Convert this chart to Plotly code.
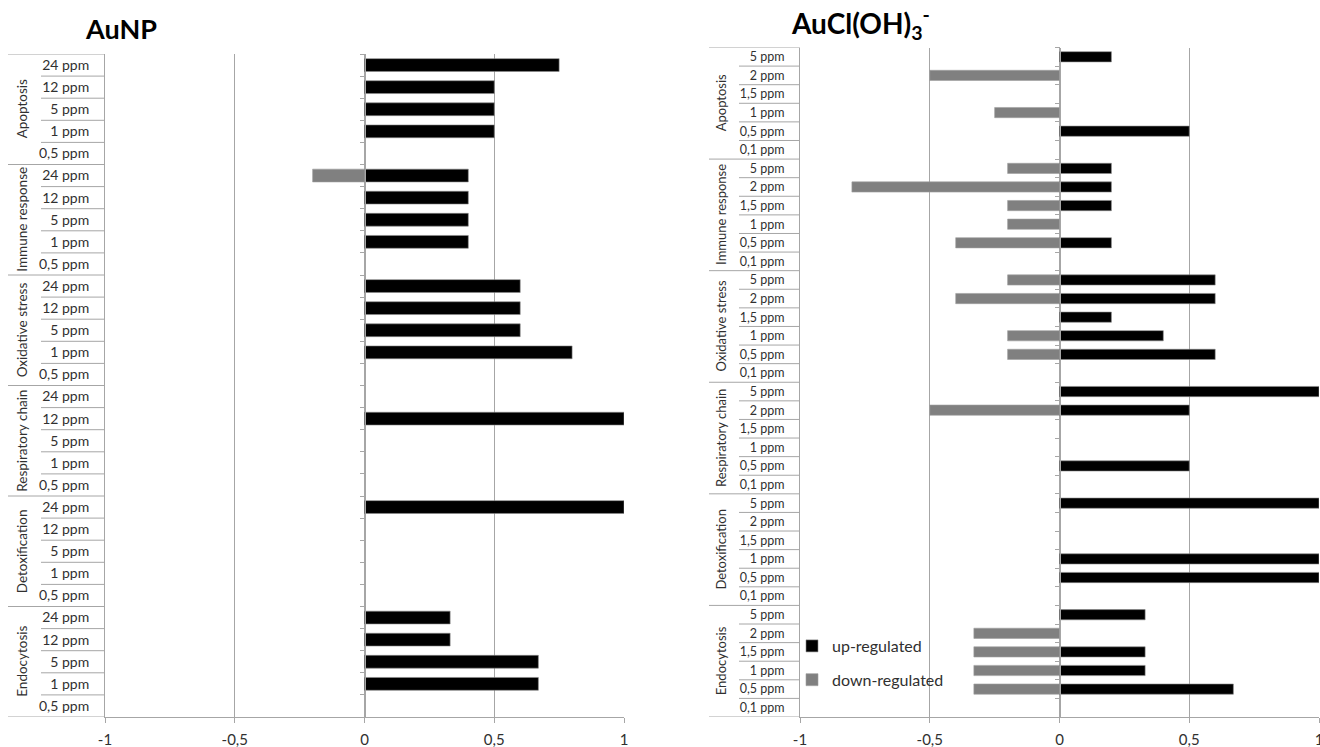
import plotly.graph_objects as go

# ---------------- data ----------------
GROUPS = ["Apoptosis", "Immune response", "Oxidative stress",
          "Respiratory chain", "Detoxification", "Endocytosis"]

AUNP_DOSES = ["24 ppm", "12 ppm", "5 ppm", "1 ppm", "0,5 ppm"]
# values per group (top to bottom), dose order as AUNP_DOSES
aunp_up = [
    0.75, 0.5, 0.5, 0.5, None,      # Apoptosis
    0.4, 0.4, 0.4, 0.4, None,       # Immune response
    0.6, 0.6, 0.6, 0.8, None,       # Oxidative stress
    None, 1.0, None, None, None,    # Respiratory chain
    1.0, None, None, None, None,    # Detoxification
    0.33, 0.33, 0.67, 0.67, None,   # Endocytosis
]
aunp_down = [
    None, None, None, None, None,
    -0.2, None, None, None, None,
    None, None, None, None, None,
    None, None, None, None, None,
    None, None, None, None, None,
    None, None, None, None, None,
]

AUCL_DOSES = ["5 ppm", "2 ppm", "1,5 ppm", "1 ppm", "0,5 ppm", "0,1 ppm"]
aucl_up = [
    0.2, None, None, None, 0.5, None,      # Apoptosis
    0.2, 0.2, 0.2, None, 0.2, None,        # Immune response
    0.6, 0.6, 0.2, 0.4, 0.6, None,         # Oxidative stress
    1.0, 0.5, None, None, 0.5, None,       # Respiratory chain
    1.0, None, None, 1.0, 1.0, None,       # Detoxification
    0.33, None, 0.33, 0.33, 0.67, None,    # Endocytosis
]
aucl_down = [
    None, -0.5, None, -0.25, None, None,
    -0.2, -0.8, -0.2, -0.2, -0.4, None,
    -0.2, -0.4, None, -0.2, -0.2, None,
    None, -0.5, None, None, None, None,
    None, None, None, None, None, None,
    None, -0.33, -0.33, -0.33, -0.33, None,
]

X_TICKS = [-1, -0.5, 0, 0.5, 1]
X_TICKTEXT = ["-1", "-0,5", "0", "0,5", "1"]

LEGEND_UP = "up-regulated"
LEGEND_DOWN = "down-regulated"
TITLE_LEFT = "<b>AuNP</b>"
TITLE_RIGHT = "<b>AuCl(OH)<sub>3</sub><sup>-</sup></b>"

# ---------------- styling ----------------
W, H = 1320, 747
FONT = "Lato"
GRID = "#a6a6a6"
TXT = "#303030"
UP_COLOR = "#000000"
DOWN_COLOR = "#808080"

panels = [
    dict(doses=AUNP_DOSES, up=aunp_up, down=aunp_down,
         xdom=[105 / W, 624 / W], ydom=[1 - 717 / H, 1 - 54 / H],
         grp_x0=8 / W, dose_x0=41 / W, grp_lab_x=22 / W,
         bw=0.58, dose_font=14, grp_font=13.5, legend=False,
         xa="x", ya="y", za="y3"),
    dict(doses=AUCL_DOSES, up=aucl_up, down=aucl_down,
         xdom=[800 / W, 1319 / W], ydom=[1 - 717 / H, 1 - 47.5 / H],
         grp_x0=709 / W, dose_x0=739 / W, grp_lab_x=721 / W,
         bw=0.55, dose_font=12.5, grp_font=13, legend=True,
         xa="x2", ya="y2", za="y4"),
]

fig = go.Figure()
shapes = []
annotations = []
layout_axes = {}

for p in panels:
    nd = len(p["doses"])
    n = nd * len(GROUPS)
    rows = list(range(n))
    ticktext = [p["doses"][i % nd] for i in rows]

    fig.add_trace(go.Bar(
        x=p["up"], y=rows, orientation="h", width=p["bw"],
        marker=dict(color=UP_COLOR, line=dict(color="#8c8c8c", width=0.6)),
        name=LEGEND_UP, showlegend=p["legend"], legendgroup="up",
        xaxis=p["xa"], yaxis=p["ya"], hoverinfo="x+y"))
    fig.add_trace(go.Bar(
        x=p["down"], y=rows, orientation="h", width=p["bw"],
        marker=dict(color=DOWN_COLOR, line=dict(color="#a0a0a0", width=0.6)),
        name=LEGEND_DOWN, showlegend=p["legend"], legendgroup="down",
        xaxis=p["xa"], yaxis=p["ya"], hoverinfo="x+y"))
    # invisible trace so the zero-crossing axis is drawn
    fig.add_trace(go.Scatter(x=[None], y=[None], xaxis=p["xa"], yaxis=p["za"],
                             showlegend=False, hoverinfo="skip"))

    xkey = "xaxis" if p["xa"] == "x" else "xaxis2"
    ykey = "yaxis" if p["ya"] == "y" else "yaxis2"
    zkey = "yaxis3" if p["za"] == "y3" else "yaxis4"
    yrange = [n - 0.5, -0.5]

    layout_axes[xkey] = dict(
        domain=p["xdom"], range=[-1, 1], anchor=p["ya"], automargin=False,
        tickvals=X_TICKS, ticktext=X_TICKTEXT,
        ticks="outside", ticklen=5, tickcolor=GRID, tickwidth=1,
        ticklabelstandoff=4, ticklabeloverflow="allow",
        showgrid=True, gridcolor=GRID, gridwidth=1,
        zeroline=False, showline=True, linecolor=GRID, linewidth=1,
        tickfont=dict(family=FONT, size=15, color=TXT), fixedrange=True)
    layout_axes[ykey] = dict(
        domain=p["ydom"], range=yrange, anchor=p["xa"], automargin=False,
        tickvals=rows, ticktext=ticktext, ticks="",
        ticklabelstandoff=12,
        showgrid=False, zeroline=False, showline=True, linecolor=GRID,
        linewidth=1, tickfont=dict(family=FONT, size=p["dose_font"], color=TXT),
        fixedrange=True)
    layout_axes[zkey] = dict(
        overlaying=p["ya"], anchor="free", automargin=False,
        position=(p["xdom"][0] + p["xdom"][1]) / 2,
        range=yrange, tickvals=[i - 0.5 for i in range(n + 1)],
        ticks="outside", ticklen=5, tickcolor=GRID, tickwidth=1,
        showticklabels=False, showgrid=False, zeroline=False,
        showline=True, linecolor=GRID, linewidth=1, side="left",
        fixedrange=True)

    # dividers of the category label area
    for b in range(n + 1):
        x0 = p["grp_x0"] if b % nd == 0 else p["dose_x0"]
        shapes.append(dict(type="line", xref="paper", yref=p["ya"],
                           x0=x0, x1=p["xdom"][0], y0=b - 0.5, y1=b - 0.5,
                           line=dict(color=GRID, width=1)))
    # group labels
    for g, name in enumerate(GROUPS):
        annotations.append(dict(
            text=name, xref="paper", yref=p["ya"], x=p["grp_lab_x"],
            y=g * nd + (nd - 1) / 2, textangle=-90, showarrow=False,
            xanchor="center", yanchor="middle",
            font=dict(family=FONT, size=p["grp_font"], color=TXT)))

annotations.append(dict(text=TITLE_LEFT, xref="paper", yref="paper",
                        x=121 / W, y=1 - 28 / H, showarrow=False,
                        xanchor="center", yanchor="middle",
                        font=dict(family=FONT, size=27, color="#000000")))
annotations.append(dict(text=TITLE_RIGHT, xref="paper", yref="paper",
                        x=861 / W, y=1 - 24 / H, showarrow=False,
                        xanchor="center", yanchor="middle",
                        font=dict(family=FONT, size=28, color="#000000")))

fig.update_layout(
    width=W, height=H, margin=dict(l=0, r=0, t=0, b=0),
    paper_bgcolor="white", plot_bgcolor="white",
    barmode="overlay", shapes=shapes, annotations=annotations,
    showlegend=True,
    legend=dict(x=792 / W, y=1 - 629 / H, xanchor="left", yanchor="top",
                bgcolor="rgba(0,0,0,0)", traceorder="grouped",
                tracegroupgap=10,
                font=dict(family=FONT, size=16, color=TXT)),
    **layout_axes,
)

fig.write_html("out.html", config={"displayModeBar": False},
               post_script="document.body.style.margin='0';")
